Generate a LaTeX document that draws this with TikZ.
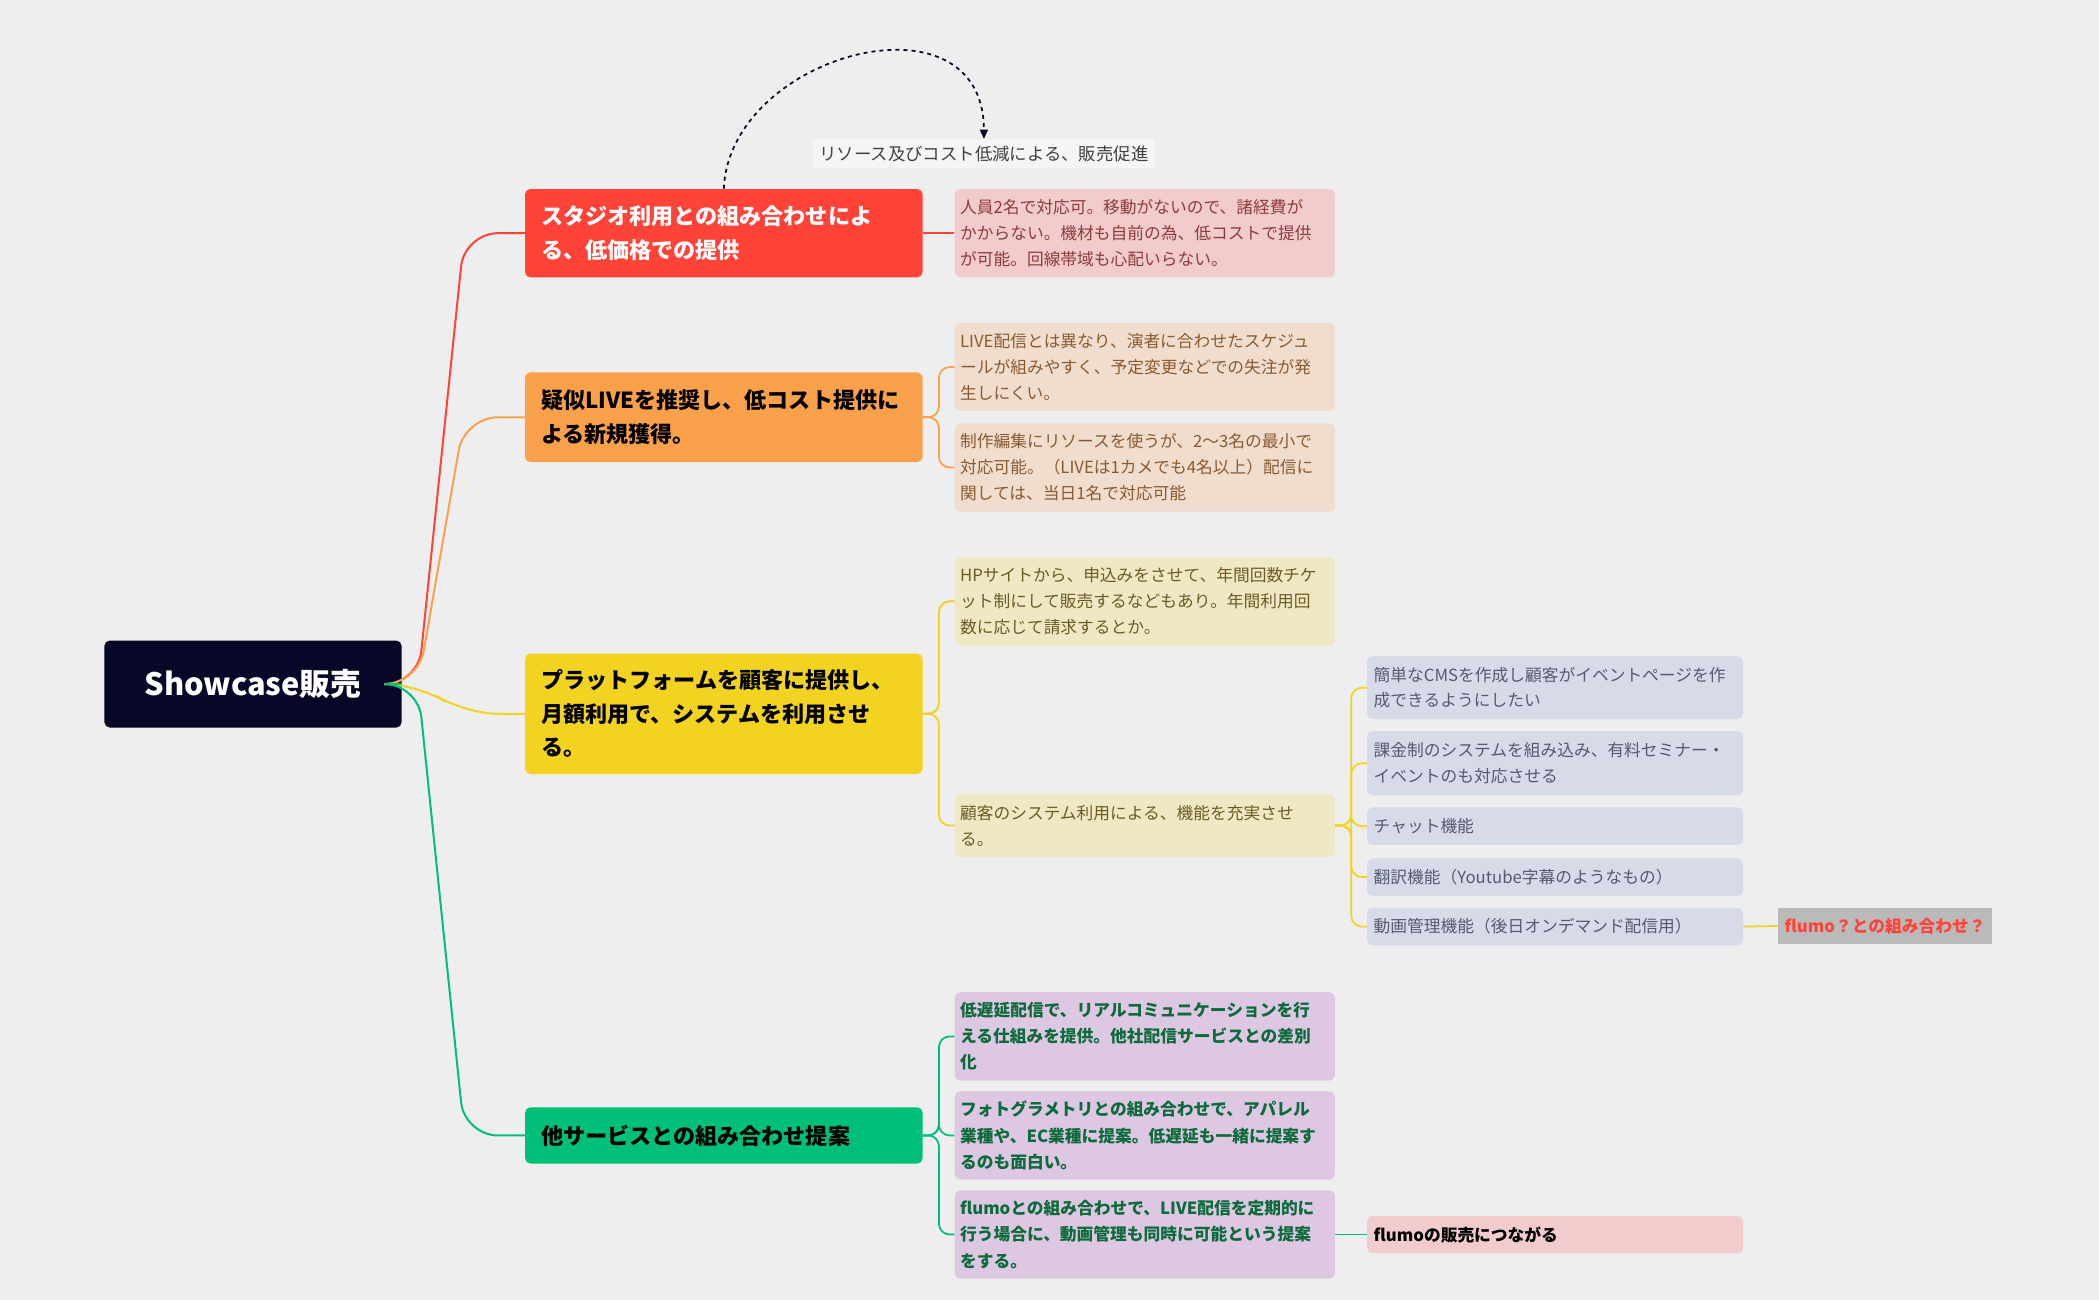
\documentclass[tikz,border=0pt]{standalone}
\usepackage{fontspec}
\setmainfont{Noto Sans CJK JP}
\usetikzlibrary{calc,arrows.meta}
\definecolor{bg}{HTML}{EEEEEE}
\definecolor{cred}{HTML}{FF4338}
\definecolor{corg}{HTML}{F8A04A}
\definecolor{cyel}{HTML}{F2D321}
\definecolor{cgrn}{HTML}{00BF78}
\definecolor{croot}{HTML}{070728}
\definecolor{lred}{HTML}{F2CCCC}
\definecolor{lorg}{HTML}{F1DDCE}
\definecolor{lyel}{HTML}{F0E8C4}
\definecolor{lpur}{HTML}{DEC7E2}
\definecolor{lblu}{HTML}{D7DAE8}
\definecolor{tred}{HTML}{8E3B3B}
\definecolor{torg}{HTML}{8A5A30}
\definecolor{tyel}{HTML}{6B5C25}
\definecolor{tblu}{HTML}{555A70}
\definecolor{tgrn}{HTML}{0B6B3A}
\tikzset{
 l1/.style={anchor=north west,fill=#1,rounded corners=4,minimum width=297pt,text width=273pt,inner sep=8pt,align=left,font=\fontsize{16.5}{25}\selectfont\bfseries},
 leaf/.style={anchor=north west,fill=#1,rounded corners=4,minimum width=284pt,text width=276pt,inner sep=4pt,align=left,font=\fontsize{12.5}{19.5}\selectfont},
 sub/.style={anchor=north west,fill=lblu,rounded corners=4,minimum width=281pt,text width=271pt,inner sep=5pt,align=left,font=\fontsize{12.5}{19}\selectfont,text=tblu},
 br/.style={line width=1.3pt,rounded corners=8},
}
\begin{document}
\begin{tikzpicture}[x=1pt,y=-1pt]
\fill[bg] (0,0) rectangle (1568,971);
\useasboundingbox (0,0) rectangle (1568,971);
\node[fill=croot,rounded corners=4,minimum width=222pt,minimum height=65pt,text=white,font=\fontsize{23}{28}\selectfont\bfseries] (root) at (189,511) {Showcase販売};
\node[l1=cred,minimum height=66pt,text=white] (A) at (392,141) {スタジオ利用との組み合わせによ\\る、低価格での提供};
\node[l1=corg,minimum height=67pt,text=black] (B) at (392,278) {疑似LIVEを推奨し、低コスト提供に\\よる新規獲得。};
\node[l1=cyel,minimum height=90pt,text=black] (C) at (392,488) {プラットフォームを顧客に提供し、\\月額利用で、システムを利用させ\\る。};
\node[l1=cgrn,minimum height=42pt,text=black] (D) at (392,827) {他サービスとの組み合わせ提案};
\node[fill=bg!60!white,rounded corners=3,inner sep=5pt,font=\fontsize{13}{16}\selectfont,text=black!75] (lab) at (735,115) {リソース及びコスト低減による、販売促進};
\draw[dashed,line width=1.3pt,croot,-{Triangle[length=7pt,width=6pt]}] (A.north) .. controls (545,40) and (735,-10) .. (lab.north);
\foreach \n/\c in {A/cred,B/corg,C/cyel,D/cgrn}
  \draw[\c,line width=1.5pt,rounded corners=25] (root.east) -- ++(12,0) -- ($(\n.west)+(-45,0)$) -- (\n.west);
% leaves
\node[leaf=lred,minimum height=66pt,text=tred] (a1) at (713,141) {人員2名で対応可。移動がないので、諸経費が\\かからない。機材も自前の為、低コストで提供\\が可能。回線帯域も心配いらない。};
\node[leaf=lorg,minimum height=66pt,text=torg] (b1) at (713,241) {LIVE配信とは異なり、演者に合わせたスケジュ\\ールが組みやすく、予定変更などでの失注が発\\生しにくい。};
\node[leaf=lorg,minimum height=66pt,text=torg] (b2) at (713,316) {制作編集にリソースを使うが、2～3名の最小で\\対応可能。（LIVEは1カメでも4名以上）配信に\\関しては、当日1名で対応可能};
\node[leaf=lyel,minimum height=66pt,text=tyel] (c1) at (713,416) {HPサイトから、申込みをさせて、年間回数チケ\\ット制にして販売するなどもあり。年間利用回\\数に応じて請求するとか。};
\node[leaf=lyel,minimum height=47pt,text=tyel] (c2) at (713,593) {顧客のシステム利用による、機能を充実させ\\る。};
\node[leaf=lpur,minimum height=66pt,text=tgrn,font=\fontsize{12.5}{19.5}\selectfont\bfseries] (d1) at (713,741) {低遅延配信で、リアルコミュニケーションを行\\える仕組みを提供。他社配信サービスとの差別\\化};
\node[leaf=lpur,minimum height=66pt,text=tgrn,font=\fontsize{12.5}{19.5}\selectfont\bfseries] (d2) at (713,815) {フォトグラメトリとの組み合わせで、アパレル\\業種や、EC業種に提案。低遅延も一緒に提案す\\るのも面白い。};
\node[leaf=lpur,minimum height=66pt,text=tgrn,font=\fontsize{12.5}{19.5}\selectfont\bfseries] (d3) at (713,889) {flumoとの組み合わせで、LIVE配信を定期的に\\行う場合に、動画管理も同時に可能という提案\\をする。};
% sub leaves
\node[sub,minimum height=47pt] (s1) at (1021,490) {簡単なCMSを作成し顧客がイベントページを作\\成できるようにしたい};
\node[sub,minimum height=48pt] (s2) at (1021,546) {課金制のシステムを組み込み、有料セミナー・\\イベントのも対応させる};
\node[sub,minimum height=28pt] (s3) at (1021,603) {チャット機能};
\node[sub,minimum height=28pt] (s4) at (1021,641) {翻訳機能（Youtube字幕のようなもの）};
\node[sub,minimum height=28pt] (s5) at (1021,678) {動画管理機能（後日オンデマンド配信用）};
\node[sub,fill=lred,text=black,minimum height=28pt,font=\fontsize{12.5}{19}\selectfont\bfseries] (e1) at (1021,908) {flumoの販売につながる};
\node[anchor=north west,fill=black!27,minimum width=160pt,minimum height=27pt,inner sep=3pt,text=cred,font=\fontsize{12.5}{16}\selectfont\bfseries] (tag) at (1328,678) {flumo？との組み合わせ？};
% branch connectors
\draw[br,cred] (A.east) -- (a1.west);
\foreach \t in {b1,b2} \draw[br,corg] (B.east) -- ++(12,0) |- (\t.west);
\foreach \t in {c1,c2} \draw[br,cyel] (C.east) -- ++(12,0) |- (c1.west);
\draw[br,cyel] (C.east) -- ++(12,0) |- (c2.west);
\foreach \t in {d1,d2,d3} \draw[br,cgrn] (D.east) -- ++(12,0) |- (\t.west);
\foreach \t in {s1,s2,s3,s4,s5} \draw[br,cyel] (c2.east) -- ++(12,0) |- (\t.west);
\draw[br,cgrn] (d3.east) -- (e1.west);
\draw[br,cyel] (s5.east) -- (tag.west);
\end{tikzpicture}
\end{document}
